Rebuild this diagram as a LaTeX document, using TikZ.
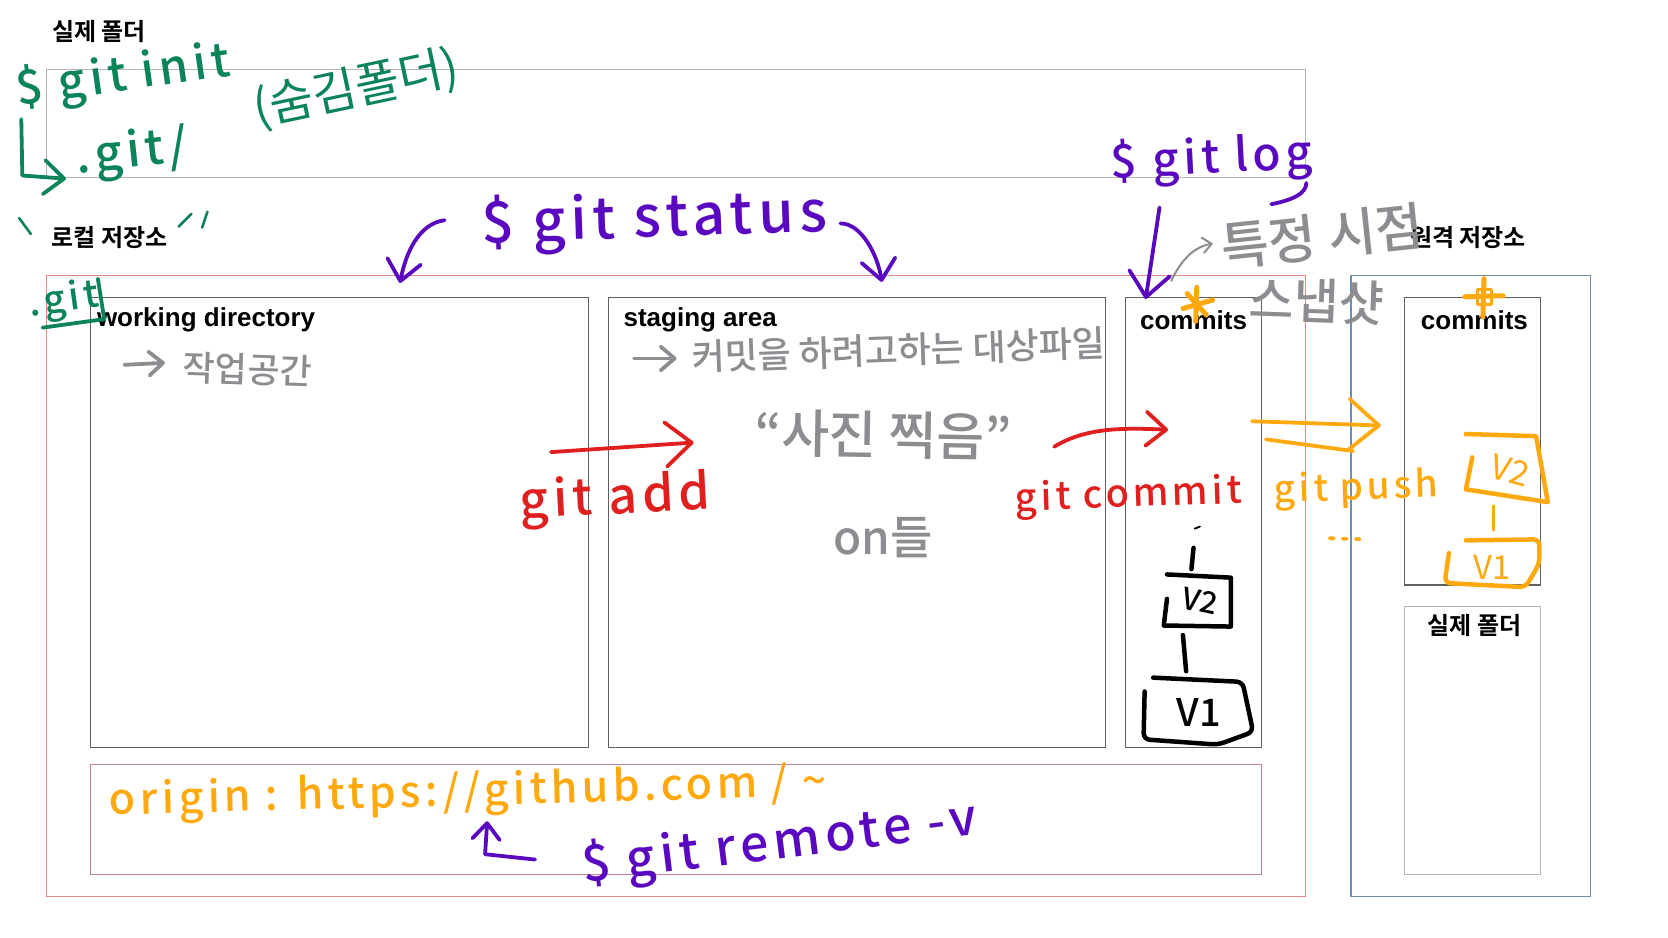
\documentclass[tikz,border=0pt]{standalone}
\usepackage{fontspec}
\usetikzlibrary{arrows.meta}
\setmainfont{Liberation Sans}
\newfontfamily\kr{Noto Sans CJK KR}
\newfontfamily\krb{Noto Sans CJK KR Medium}
\newfontfamily\krt{Noto Sans CJK KR Bold}
\newfontfamily\krs[LetterSpace=10]{Noto Sans CJK KR Medium}
\definecolor{inkgreen}{HTML}{0B8458}
\definecolor{inkpurple}{HTML}{5A08C0}
\definecolor{inkred}{HTML}{E0201F}
\definecolor{inkorange}{HTML}{FFA90E}
\definecolor{inkgray}{HTML}{8C8D91}
\definecolor{lineGray}{HTML}{B5B5B5}
\definecolor{lineDark}{HTML}{606060}
\definecolor{lineRed}{HTML}{E08A8A}
\definecolor{linePink}{HTML}{C080A0}
\definecolor{lineBlue}{HTML}{6E8FAE}
\tikzset{
  frame/.style={draw=#1,line width=1.2pt,inner sep=0pt,outer sep=0pt,anchor=north west},
  title/.style={font=\bfseries\fontsize{26}{26}\selectfont,inner sep=0pt,text=black},
  krtitle/.style={font=\krt\fontsize{24}{24}\selectfont,inner sep=0pt,text=black},
  hand/.style={font=\krs\fontsize{#1}{#1}\selectfont,inner sep=0pt},
  handk/.style={font=\kr\fontsize{#1}{#1}\selectfont,inner sep=0pt},
  handb/.style={font=\krb\fontsize{#1}{#1}\selectfont,inner sep=0pt},
  ink/.style={draw=#1,line width=3.8pt,line cap=round,line join=round},
  barb/.style={-{Straight Barb[length=#1,width=1.7*#1,round]}}
}
\newcommand{\bx}[6]{\node[frame=#1,minimum width={(#4-#2)*1.0638pt},minimum height={(#5-#3)*1.0638pt}] (#6) at (#2,#3) {};}
\begin{document}
\begin{tikzpicture}[x=1.0638pt,y=-1.0638pt]
\useasboundingbox (0,0) rectangle (1568,881.75);
% frames
\bx{lineGray}{44}{65}{1227}{167}{folder}
\bx{lineRed}{44}{259}{1227}{843}{local}
\bx{lineDark}{85}{280}{553}{703}{work}
\bx{lineDark}{572}{280}{1039}{703}{stage}
\bx{lineDark}{1058}{280}{1186}{703}{commitsL}
\bx{linePink}{85}{719}{1186}{822}{remoteurl}
\bx{lineBlue}{1270}{259}{1495}{843}{remote}
\bx{lineDark}{1320}{280}{1448}{550}{commitsR}
\bx{lineGray}{1320}{570}{1448}{822}{folderR}
% printed labels
\node[krtitle] (t1) at (93,30) {실제 폴더};
\node[krtitle] (t2) at (103,223) {로컬 저장소};
\node[krtitle] (t3) at (1380,223) {원격 저장소};
\node[krtitle] (t4) at (1386,588) {실제 폴더};
\node[title,anchor=west] (t5) at (91,301) {working directory};
\node[title,anchor=west] (t6) at (586,301) {staging area};
\node[title] (t7) at (1122,301) {commits};
\node[title] (t8) at (1386,301) {commits};
% green notes
\node[hand=47,text=inkgreen,rotate=8] (gi) at (116,72) {\$ git init};
\node[hand=48,text=inkgreen,rotate=6] (gd) at (124,145) {.git/};
\node[handk=48,text=inkgreen,rotate=12] (gh) at (335,84) {(숨김폴더)};
\node[hand=38,text=inkgreen,rotate=8] (gl) at (60,283) {.git};
\coordinate (ga) at (20,112); \coordinate (gb) at (21,165); \coordinate (gc) at (62,168);
\draw[ink=inkgreen,barb=20pt] (ga) -- (gb) -- (gc);
\coordinate (gu1) at (40,308); \coordinate (gu2) at (98,300); \coordinate (gu3) at (92,262);
\draw[ink=inkgreen] (gu1) -- (gu2) -- (gu3);
\coordinate (q1) at (18,205); \coordinate (q2) at (29,220);
\coordinate (q3) at (168,213); \coordinate (q4) at (180,201);
\coordinate (q5) at (190,214); \coordinate (q6) at (195,199);
\draw[ink=inkgreen,line width=2.6pt] (q1) -- (q2) (q3) -- (q4) (q5) -- (q6);
% purple notes
\node[hand=57,text=inkpurple,rotate=2] (ps) at (615,207) {\$ git status};
\coordinate (pa1) at (418,207); \coordinate (pa2) at (376,266);
\draw[ink=inkpurple,barb=20pt] (pa1) .. controls (395,210) and (382,235) .. (pa2);
\coordinate (pb1) at (790,210); \coordinate (pb2) at (829,265);
\draw[ink=inkpurple,barb=20pt] (pb1) .. controls (810,210) and (825,240) .. (pb2);
\node[hand=46,text=inkpurple,rotate=3] (pl) at (1139,150) {\$ git log};
\coordinate (pc1) at (1228,172); \coordinate (pc2) at (1195,192);
\draw[ink=inkpurple] (pc1) .. controls (1228,182) and (1215,188) .. (pc2);
\coordinate (pd1) at (1090,195); \coordinate (pd2) at (1077,281);
\draw[ink=inkpurple,barb=24pt] (pd1) -- (pd2);
\node[hand=50,text=inkpurple,rotate=7] (pr) at (733,793) {\$ git remote -v};
\coordinate (pe1) at (503,808); \coordinate (pe2) at (456,803); \coordinate (pe3) at (458,772);
\draw[ink=inkpurple,barb=16pt] (pe1) -- (pe2) -- (pe3);
% gray notes
\node[handb=35,text=inkgray,anchor=west,rotate=-2] (ka) at (172,345) {작업공간};
\coordinate (ka1) at (117,343); \coordinate (ka2) at (155,341);
\draw[ink=inkgray,barb=14pt] (ka1) -- (ka2);
\node[handb=36,text=inkgray,anchor=west,rotate=2] (kb) at (650,336) {커밋을 하려고하는 대상파일};
\coordinate (kb1) at (596,337); \coordinate (kb2) at (636,337);
\draw[ink=inkgray,barb=14pt] (kb1) -- (kb2);
\node[handb=52,text=inkgray,rotate=-1] (kc) at (830,409) {\char"201C사진 찍음\char"201D};
\node[handb=46,text=inkgray] (kd) at (830,505) {on들};
\node[handb=52,text=inkgray,rotate=6] (ke) at (1243,222) {특정 시점};
\node[handb=49,text=inkgray,rotate=-2] (kf) at (1238,283) {스냅샷};
\coordinate (kg1) at (1101,264); \coordinate (kg2) at (1140,229);
\draw[ink=inkgray,line width=2pt,barb=9pt] (kg1) .. controls (1110,245) and (1122,232) .. (kg2);
% red notes
\node[hand=50,text=inkred,rotate=3] (ra) at (578,470) {git add};
\coordinate (ra1) at (518,425); \coordinate (ra2) at (652,416);
\draw[ink=inkred,barb=26pt] (ra1) -- (ra2);
\node[hand=38,text=inkred,rotate=2] (rc) at (1061,467) {git commit};
\coordinate (rc1) at (991,420); \coordinate (rc2) at (1098,404);
\draw[ink=inkred,barb=20pt] (rc1) .. controls (1020,402) and (1055,402) .. (rc2);
% orange notes
\node[hand=37,text=inkorange,rotate=2] (oa) at (1275,460) {git push};
\coordinate (oa1) at (1177,396); \coordinate (oa2) at (1298,400);
\coordinate (ob1) at (1190,413); \coordinate (ob2) at (1272,424);
\draw[ink=inkorange,barb=30pt] (oa1) -- (oa2);
\draw[ink=inkorange] (ob1) -- (ob2);
\coordinate (od1) at (1250,506); \coordinate (od2) at (1284,507);
\draw[ink=inkorange,dash pattern=on 4pt off 9pt] (od1) -- (od2);
\node[hand=43,text=inkorange,rotate=1.5] (ou) at (440,746) {origin : https://github.com / \textasciitilde};
% stars
\coordinate (s1) at (1125,270); \coordinate (s2) at (1124,302);
\coordinate (s3) at (1112,290); \coordinate (s4) at (1140,282);
\draw[ink=inkorange,line width=5pt] (s1) -- (s2) (s3) -- (s4) (1116,276) -- (1134,296);
\coordinate (s5) at (1395,262); \coordinate (s6) at (1394,298);
\coordinate (s7) at (1377,279); \coordinate (s8) at (1413,278);
\draw[ink=inkorange,line width=5pt] (s5) -- (s6) (s7) -- (s8);
\draw[ink=inkorange,line width=3pt] (1389,272) -- (1402,272) -- (1402,286) -- (1389,286) -- cycle;
% orange stack
\coordinate (o21) at (1378,408); \coordinate (o22) at (1444,410); \coordinate (o23) at (1455,472);
\coordinate (o24) at (1378,460); \coordinate (o25) at (1384,430);
\draw[ink=inkorange,line width=4.5pt] (o21) -- (o22) -- (o23) -- (o24) -- (o25);
\node[handk=34,text=inkorange,rotate=-15] (ov2) at (1420,442) {V2};
\coordinate (ol1) at (1404,476); \coordinate (ol2) at (1404,498);
\draw[ink=inkorange] (ol1) -- (ol2);
\coordinate (o11) at (1378,508); \coordinate (o12) at (1447,507); \coordinate (o13) at (1447,530);
\coordinate (o14) at (1434,552); \coordinate (o15) at (1358,548); \coordinate (o16) at (1362,520);
\draw[ink=inkorange,line width=4.5pt,rounded corners=6pt] (o11) -- (o12) -- (o13) -- (o14) -- (o15) -- (o16);
\node[handk=33,text=inkorange] (ov1) at (1403,533) {V1};
% black stack
\coordinate (bd1) at (1123,497); \coordinate (bd2) at (1128,495);
\draw[draw=black,line width=1.8pt,line cap=round] (bd1) -- (bd2);
\coordinate (bl1) at (1122,515); \coordinate (bl2) at (1120,535);
\draw[ink=black,line width=4.5pt] (bl1) -- (bl2);
\coordinate (b21) at (1097,540); \coordinate (b22) at (1157,543); \coordinate (b23) at (1157,589);
\coordinate (b24) at (1094,588); \coordinate (b25) at (1097,563);
\draw[ink=black,line width=4.5pt] (b21) -- (b22) -- (b23) -- (b24) -- (b25);
\node[handb=30,text=black,rotate=-12] (bv2) at (1128,565) {V2};
\coordinate (bl3) at (1112,597); \coordinate (bl4) at (1115,631);
\draw[ink=black,line width=4.5pt] (bl3) -- (bl4);
\coordinate (b11) at (1084,637); \coordinate (b12) at (1168,641); \coordinate (b13) at (1178,688);
\coordinate (b14) at (1145,700); \coordinate (b15) at (1075,695); \coordinate (b16) at (1076,650);
\draw[ink=black,line width=4.5pt,rounded corners=6pt] (b11) -- (b12) -- (b13) -- (b14) -- (b15) -- (b16);
\node[handb=38,text=black] (bv1) at (1127,670) {V1};
\end{tikzpicture}
\end{document}
